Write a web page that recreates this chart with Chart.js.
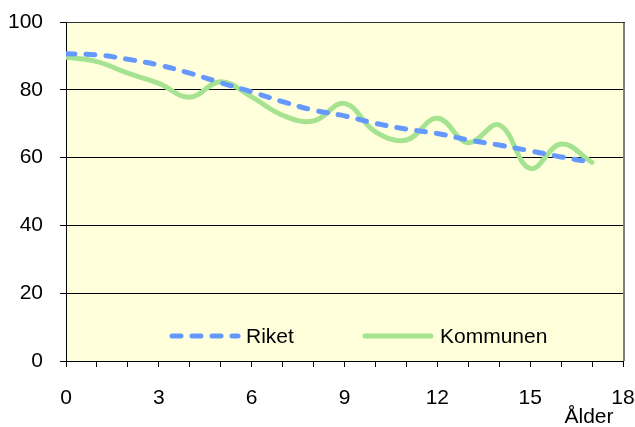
<!DOCTYPE html>
<html>
<head>
<meta charset="utf-8">
<script src="https://cdn.jsdelivr.net/npm/chart.js@4/dist/chart.umd.min.js"></script>
<style>
  html, body { margin: 0; padding: 0; background: #fff; }
  #wrap { width: 635px; height: 427px; }
</style>
</head>
<body>
<div id="wrap"><canvas id="chart" width="635" height="427"></canvas></div>
<script>
// ålder 0..17
const ages = [0, 1, 2, 3, 4, 5, 6, 7, 8, 9, 10, 11, 12, 13, 14, 15, 16, 17];
const riket = [90.6, 90.3, 89.0, 87.3, 84.9, 82.1, 79.4, 76.5, 74.0, 72.3, 70.1, 68.4, 67.1, 65.2, 63.7, 62.0, 60.2, 58.6];
const kommunen = [89.6, 88.3, 84.9, 81.9, 77.8, 82.4, 77.9, 72.5, 70.8, 76.0, 67.6, 65.2, 71.6, 64.4, 69.6, 56.8, 64.0, 58.6];
const seriesNames = ['Riket', 'Kommunen'];
const xTitle = 'Ålder';

const FONT = 'Liberation Sans, Arial, sans-serif';

// bakgrund + ram runt ritytan
const plotBg = {
  id: 'plotBg',
  beforeDraw(chart) {
    const { ctx, chartArea: a } = chart;
    ctx.save();
    ctx.fillStyle = '#FFFFDC';
    ctx.fillRect(a.left, a.top, a.right - a.left, a.bottom - a.top);
    ctx.restore();
  },
  afterDraw(chart) {
    const { ctx, chartArea: a } = chart;
    ctx.save();
    ctx.strokeStyle = '#7f7f7f';
    ctx.lineWidth = 2;
    ctx.beginPath();
    ctx.moveTo(a.right + 1, a.top);
    ctx.lineTo(a.right + 1, a.bottom);
    ctx.stroke();
    ctx.strokeStyle = '#333';
    ctx.lineWidth = 1;
    ctx.beginPath();
    ctx.moveTo(a.left, a.top + 0.5);
    ctx.lineTo(a.right + 2, a.top + 0.5);
    ctx.stroke();
    // axeltitel
    ctx.fillStyle = '#000';
    ctx.font = '21px ' + FONT;
    ctx.textAlign = 'center';
    ctx.textBaseline = 'middle';
    ctx.fillText(xTitle, 589, 417);
    ctx.restore();
  }
};

// förklaring inne i ritytan
const innerLegend = {
  id: 'innerLegend',
  afterDatasetsDraw(chart) {
    const { ctx } = chart;
    const spots = [{ x: 172, text: 246 }, { x: 365, text: 440 }];
    const y = 336;
    ctx.save();
    chart.data.datasets.forEach((ds, i) => {
      const s = spots[i];
      ctx.strokeStyle = ds.borderColor;
      ctx.lineWidth = ds.borderWidth;
      ctx.lineCap = 'round';
      ctx.setLineDash(ds.borderDash || []);
      ctx.beginPath();
      ctx.moveTo(s.x, y);
      ctx.lineTo(s.x + 66, y);
      ctx.stroke();
      ctx.setLineDash([]);
      ctx.fillStyle = '#000';
      ctx.font = '21px ' + FONT;
      ctx.textAlign = 'left';
      ctx.textBaseline = 'middle';
      ctx.fillText(ds.label, s.text, y + 1);
    });
    ctx.restore();
  }
};

// ta bort extra luft som etiketterna annars ger
function noLabelPadding(scale) {
  scale.paddingTop = 0;
  scale.paddingBottom = 0;
  scale.paddingLeft = 0;
  scale.paddingRight = 0;
}

new Chart(document.getElementById('chart'), {
  type: 'line',
  data: {
    datasets: [
      {
        label: seriesNames[0],
        data: ages.map((a, i) => ({ x: a, y: riket[i] })),
        borderColor: '#6699FF',
        borderWidth: 5,
        borderDash: [9, 11],
        borderCapStyle: 'round',
        pointRadius: 0,
        tension: 0.4,
        fill: false
      },
      {
        label: seriesNames[1],
        data: ages.map((a, i) => ({ x: a, y: kommunen[i] })),
        borderColor: '#A6E391',
        borderWidth: 5,
        borderCapStyle: 'round',
        pointRadius: 0,
        tension: 0.4,
        fill: false
      }
    ]
  },
  options: {
    responsive: false,
    animation: false,
    layout: { padding: { top: 22, right: 12, left: 0, bottom: 0 } },
    plugins: {
      legend: { display: false },
      tooltip: { enabled: false }
    },
    scales: {
      x: {
        type: 'linear',
        min: 0,
        max: 18,
        afterFit(scale) { scale.height = 66; noLabelPadding(scale); },
        grid: { drawOnChartArea: false, color: '#000', tickLength: 6 },
        border: { color: '#000', width: 1 },
        ticks: {
          stepSize: 1,
          autoSkip: false,
          maxRotation: 0,
          padding: 19,
          color: '#000',
          font: { family: FONT, size: 21 },
          callback: v => (v % 3 === 0 ? v : '')
        }
      },
      y: {
        min: 0,
        max: 100,
        afterFit(scale) { scale.width = 66; noLabelPadding(scale); },
        grid: { color: '#000', tickLength: 6 },
        border: { color: '#000', width: 1 },
        ticks: {
          stepSize: 20,
          padding: 17,
          color: '#000',
          font: { family: FONT, size: 21 }
        }
      }
    }
  },
  plugins: [plotBg, innerLegend]
});
</script>
</body>
</html>
